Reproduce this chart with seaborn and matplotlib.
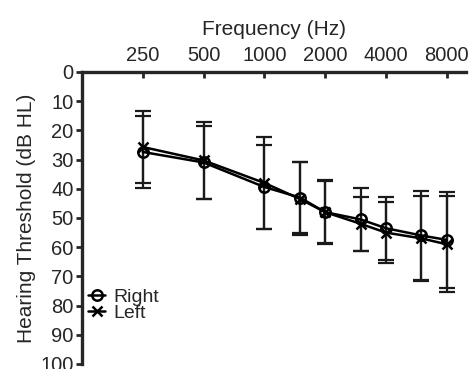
import numpy as np
import pandas as pd
import seaborn as sns
import matplotlib.pyplot as plt
from matplotlib.ticker import FixedLocator, NullLocator

# --- data ---
freqs = [250, 500, 1000, 1500, 2000, 3000, 4000, 6000, 8000]
right_mean = [27.4, 31.0, 39.4, 43.0, 48.0, 50.5, 53.5, 56.0, 57.5]
right_sd = [12.3, 12.5, 14.4, 12.0, 10.5, 10.9, 10.8, 15.2, 16.4]
left_mean = [25.7, 30.3, 38.0, 43.5, 48.0, 52.0, 55.0, 57.0, 59.0]
left_sd = [12.3, 13.2, 15.8, 12.5, 11.0, 9.3, 10.5, 14.5, 16.5]
tick_freqs = [250, 500, 1000, 2000, 4000, 8000]

df = pd.concat([
    pd.DataFrame({"Frequency": freqs, "Threshold": right_mean, "SD": right_sd, "Ear": "Right"}),
    pd.DataFrame({"Frequency": freqs, "Threshold": left_mean, "SD": left_sd, "Ear": "Left"}),
], ignore_index=True)

sns.set_style("ticks")
plt.rcParams['font.family'] = ['Liberation Sans', 'DejaVu Sans']

fig = plt.figure(figsize=(4.69, 3.69), dpi=100)
ax = fig.add_axes([0.175, 0.0136, 0.819, 0.7914])

markers = {"Right": "o", "Left": "x"}
for ear in ["Right", "Left"]:
    sub = df[df["Ear"] == ear]
    # error bars (mean +/- SD)
    ax.errorbar(sub["Frequency"], sub["Threshold"], yerr=sub["SD"], fmt="none",
                ecolor="#1a1a1a", elinewidth=1.6, capsize=5.5, capthick=1.6, zorder=1)
    sns.lineplot(data=sub, x="Frequency", y="Threshold", marker=markers[ear],
                 color="black", linewidth=1.8, markersize=7.5, markerfacecolor="none",
                 markeredgecolor="black", markeredgewidth=1.8, label=ear, ax=ax, zorder=3)

ax.set_xscale("log", base=2)
ax.set_xlim(125, 10000)
ax.set_ylim(100, 0)
ax.xaxis.set_major_locator(FixedLocator(tick_freqs))
ax.xaxis.set_minor_locator(NullLocator())
ax.set_xticklabels([str(f) for f in tick_freqs])
ax.set_yticks(np.arange(0, 101, 10))

ax.xaxis.tick_top()
ax.xaxis.set_label_position("top")
ax.set_xlabel("Frequency (Hz)", fontsize=15, labelpad=8)
ax.set_ylabel("Hearing Threshold (dB HL)", fontsize=15, labelpad=3)

for side in ["right", "bottom"]:
    ax.spines[side].set_visible(False)
for side in ["left", "top"]:
    ax.spines[side].set_linewidth(2.4)

ax.tick_params(axis="x", direction="in", length=4, width=2, labelsize=14.5, pad=5)
ax.tick_params(axis="y", direction="out", length=4, width=2, labelsize=14.5, pad=2)

handles, labels = ax.get_legend_handles_labels()
ax.legend(handles, labels, loc="lower left", bbox_to_anchor=(0.0, 0.125), frameon=False,
          fontsize=14, handlelength=0.9, handletextpad=0.4, labelspacing=-0.1,
          borderpad=0, borderaxespad=0.3)

fig.savefig("out.png", dpi=100)
